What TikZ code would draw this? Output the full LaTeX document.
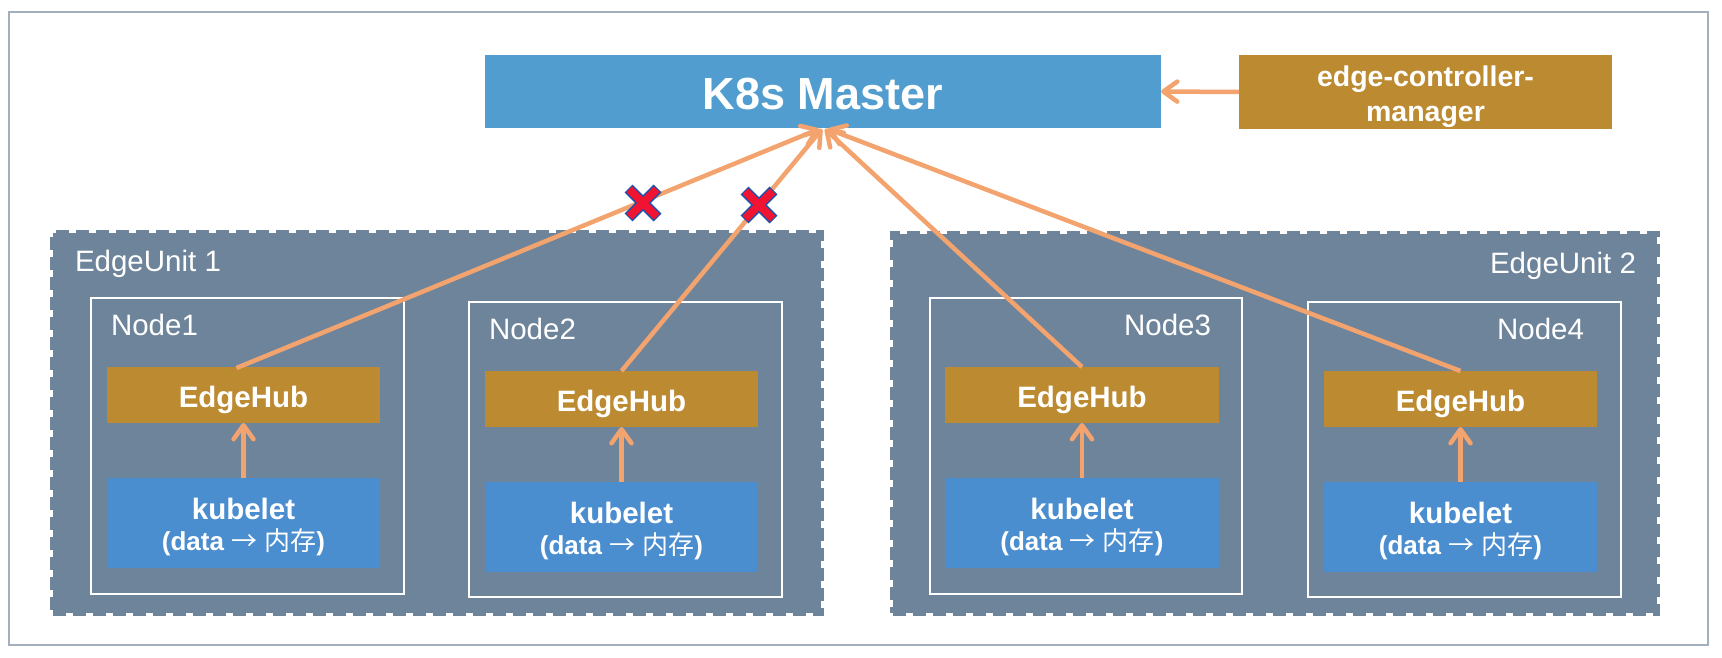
\documentclass[tikz,border=0pt]{standalone}
\usepackage{fontspec}
\setmainfont{Liberation Sans}
\newfontfamily\cjk{Noto Sans CJK SC}
\usetikzlibrary{arrows.meta,calc}
\definecolor{mblue}{HTML}{529DCF}
\definecolor{kblue}{HTML}{4B8ED0}
\definecolor{gold}{HTML}{BC8A30}
\definecolor{slate}{HTML}{6E849B}
\definecolor{flowc}{HTML}{F3A36E}
\definecolor{framec}{HTML}{A3AFBD}
\definecolor{xred}{HTML}{F01432}
\definecolor{xblue}{HTML}{1E50AA}
\newcommand\drawcross[1]{%
  \draw[xblue, line width=11pt] ($(#1)+(-14.5,-14.5)$) -- ($(#1)+(14.5,14.5)$) ($(#1)+(-14.5,14.5)$) -- ($(#1)+(14.5,-14.5)$);
  \draw[xred, line width=8pt] ($(#1)+(-13.7,-13.7)$) -- ($(#1)+(13.7,13.7)$) ($(#1)+(-13.7,13.7)$) -- ($(#1)+(13.7,-13.7)$);}
\begin{document}
\begin{tikzpicture}[x=1pt,y=-1pt,
  box/.style={inner sep=0pt, outer sep=0pt, anchor=north west},
  framebox/.style={box, draw=framec, line width=1.8pt},
  unitbox/.style={box, fill=slate, draw=slate, line width=6pt, dash pattern=on 13pt off 7pt},
  nodebox/.style={box, draw=white, line width=1.6pt},
  hubbox/.style={box, fill=gold},
  kubebox/.style={box, fill=kblue},
  masterbox/.style={box, fill=mblue},
  txt/.style={text=white, inner sep=0pt, outer sep=0pt, anchor=base},
  boldtxt/.style={txt, font=\bfseries\fontsize{29.5}{30}\selectfont},
  ecmtxt/.style={txt, font=\bfseries\fontsize{28.5}{30}\selectfont},
  thintxt/.style={txt, font=\fontsize{29.5}{30}\selectfont},
  subtxt/.style={txt, font=\bfseries\fontsize{26}{26}\selectfont},
  flow/.style={draw=flowc, line width=4.5pt, -{Straight Barb[length=14pt,width=20pt,round]}}
]
\useasboundingbox (0,0) rectangle (1722,658);
\node[framebox, minimum width=1699pt, minimum height=633pt] (frame) at (9,12) {};

% master and controller
\node[masterbox, minimum width=676pt, minimum height=73pt] (master) at (485,55) {};
\node[txt, font=\bfseries\fontsize{45}{45}\selectfont] (mastert) at ($(master.south)+(0,-18)$) {K8s Master};
\node[box, fill=gold, minimum width=373pt, minimum height=74pt] (ecm) at (1239,55) {};
\node[ecmtxt] (ecmt1) at ($(ecm.north)+(0,32)$) {edge-controller-};
\node[ecmtxt] (ecmt2) at ($(ecm.north)+(0,67)$) {manager};

% edge units
\node[unitbox, minimum width=768pt, minimum height=380pt] (u1) at (53,233) {};
\node[unitbox, minimum width=764pt, minimum height=379pt] (u2) at (893,234) {};
\node[thintxt, anchor=base west] (u1t) at ($(u1.north west)+(22,38)$) {EdgeUnit 1};
\node[thintxt, anchor=base east] (u2t) at ($(u2.north east)+(-21,39)$) {EdgeUnit 2};

% nodes
\node[nodebox, minimum width=313pt, minimum height=296pt] (n1) at (91,298) {};
\node[nodebox, minimum width=313pt, minimum height=295pt] (n2) at (469,302) {};
\node[nodebox, minimum width=312pt, minimum height=296pt] (n3) at (930,298) {};
\node[nodebox, minimum width=313pt, minimum height=295pt] (n4) at (1308,302) {};
\node[thintxt, anchor=base west] (n1t) at ($(n1.north west)+(20,37)$) {Node1};
\node[thintxt, anchor=base west] (n2t) at ($(n2.north west)+(20,37)$) {Node2};
\node[thintxt, anchor=base east] (n3t) at ($(n3.north east)+(-31,37)$) {Node3};
\node[thintxt, anchor=base east] (n4t) at ($(n4.north east)+(-37,37)$) {Node4};

% edgehubs
\node[hubbox, minimum width=273pt, minimum height=56pt] (eh1) at (107,367) {};
\node[hubbox, minimum width=273pt, minimum height=56pt] (eh2) at (485,371) {};
\node[hubbox, minimum width=274pt, minimum height=56pt] (eh3) at (945,367) {};
\node[hubbox, minimum width=273pt, minimum height=56pt] (eh4) at (1324,371) {};
\foreach \i in {1,2,3,4}{
  \node[boldtxt] (eh\i t) at ($(eh\i.north)+(0,40)$) {EdgeHub};
}

% kubelets
\node[kubebox, minimum width=273pt, minimum height=90pt] (k1) at (107,478) {};
\node[kubebox, minimum width=273pt, minimum height=90pt] (k2) at (485,482) {};
\node[kubebox, minimum width=274pt, minimum height=90pt] (k3) at (945,478) {};
\node[kubebox, minimum width=273pt, minimum height=90pt] (k4) at (1324,482) {};
\foreach \i in {1,2,3,4}{
  \node[boldtxt] (k\i t) at ($(k\i.north)+(0,41)$) {kubelet};
  \node[subtxt] (k\i s) at ($(k\i.north)+(0,72)$) {(data {\cjk\mdseries →} {\cjk\mdseries 内存})};
}

% arrows
\draw[flow] (ecm.west) -- (master.east);
\foreach \i in {1,2,3,4}{
  \draw[flow] (k\i.north) -- (eh\i.south);
}
\coordinate (t1) at ($(master.south)+(-4,1)$);
\coordinate (t2) at ($(master.south)+(-1,1)$);
\coordinate (t3) at ($(master.south)+(2,1)$);
\coordinate (t4) at ($(master.south)+(5,1)$);
\draw[flow] ($(eh1.north)+(-7,1)$) -- (t1);
\draw[flow] (eh2.north) -- (t2);
\draw[flow] (eh3.north) -- (t3);
\draw[flow] (eh4.north) -- (t4);

% blocked marks
\coordinate (x1) at (643,203);
\coordinate (x2) at (759,205);
\drawcross{x1}
\drawcross{x2}
\end{tikzpicture}
\end{document}
